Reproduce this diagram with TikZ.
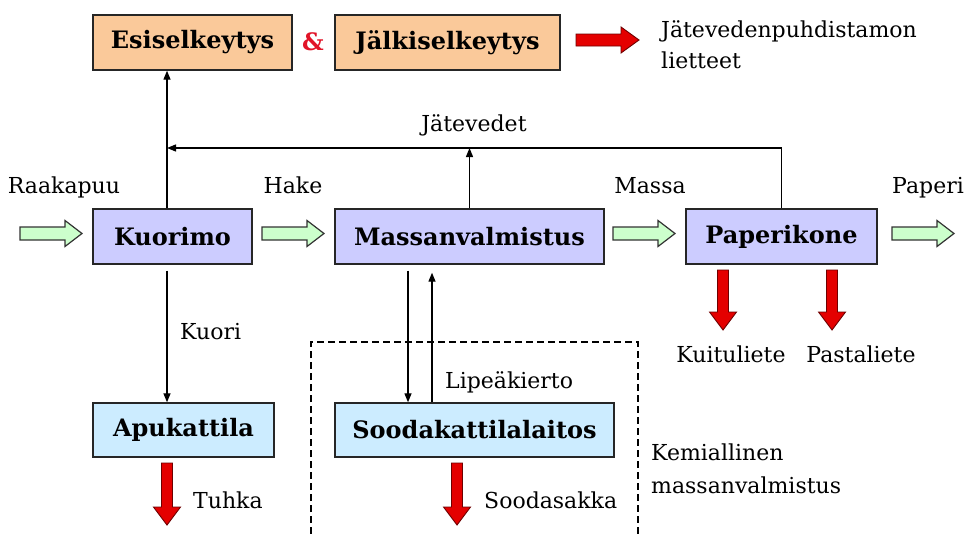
\documentclass[tikz,border=0pt]{standalone}
\usepackage{fontspec}
\setmainfont{DejaVu Serif}
\usetikzlibrary{arrows.meta,calc}

\definecolor{peach}{RGB}{250,201,154}
\definecolor{lavender}{RGB}{204,204,255}
\definecolor{skyblue}{RGB}{204,236,255}
\definecolor{mint}{RGB}{204,255,204}
\definecolor{arrowred}{RGB}{228,0,0}
\definecolor{darkred}{RGB}{110,0,0}
\definecolor{ampred}{RGB}{225,20,40}

\tikzset{
  box/.style={draw=black!85, line width=1.4pt, minimum height=55pt, inner sep=0pt,
    font=\fontsize{24}{28}\selectfont\bfseries},
  lbl/.style={inner sep=0pt, font=\fontsize{22}{31}\selectfont},
  conn/.style={line width=1.3pt, -{Triangle[length=9pt,width=7pt]}},
  greenbody/.style={draw=black!80, line width=1.2pt, fill=mint},
  redbody/.style={draw=darkred, line width=0.9pt, fill=arrowred},
  pics/greenright/.style={code={
    \path[greenbody] (0,-6.5) -- (45,-6.5) -- (45,-13) -- (62,0) -- (45,13)
      -- (45,6.5) -- (0,6.5) -- cycle;}},
  pics/reddown/.style={code={
    \path[redbody] (-5.5,0) -- (-5.5,#1-18) -- (-13.5,#1-18) -- (0,#1)
      -- (13.5,#1-18) -- (5.5,#1-18) -- (5.5,0) -- cycle;}},
}

\begin{document}
\begin{tikzpicture}[x=1pt, y=-1pt]
  \useasboundingbox (0,0) rectangle (968,533);
  \fill[white] (0,0) rectangle (968,533);
  \clip (0,0) rectangle (968,533);

  % clarification stage
  \node[box, fill=peach, minimum width=199pt] (esi) at (192.5,42.5) {Esiselkeytys};
  \node[box, fill=peach, minimum width=225pt] (jalki) at (447.5,42.5) {Jälkiselkeytys};
  \node[inner sep=0pt, text=ampred, font=\fontsize{24}{28}\selectfont\bfseries] (amp) at (313,42) {\&};
  \path[redbody] (576,34) -- (621,34) -- (621,27) -- (639,40) -- (621,53)
    -- (621,46) -- (576,46) -- cycle;
  \node[lbl, anchor=base west] (liete1) at (661,37) {Jätevedenpuhdistamon};
  \node[lbl, anchor=base west] (liete2) at (661,68) {lietteet};

  % main process line
  \node[box, fill=lavender, minimum width=159pt] (kuorimo) at (172.5,236.5) {Kuorimo};
  \node[box, fill=lavender, minimum width=269pt] (massa) at (469.5,236.5) {Massanvalmistus};
  \node[box, fill=lavender, minimum width=191pt] (paper) at (781.5,236.5) {Paperikone};

  \pic at (20,233.5) {greenright};
  \pic at (262,233.5) {greenright};
  \pic at (613,233.5) {greenright};
  \pic at (892,233.5) {greenright};

  \node[lbl, anchor=base] (raaka) at (64,193) {Raakapuu};
  \node[lbl, anchor=base] (hake) at (293,193) {Hake};
  \node[lbl, anchor=base] (massalbl) at (650,193) {Massa};
  \node[lbl, anchor=base] (paperi) at (928,193) {Paperi};

  % waste water loop
  \coordinate (kx) at (167,148);
  \coordinate (dx) at (408,0);
  \coordinate (ux) at (432,0);
  \draw[conn] (paper.north) |- (kx);
  \draw[conn] (massa.north) -- (massa.north |- kx);
  \draw[conn] (kuorimo.north -| kx) -- (esi.south -| kx);
  \node[lbl, anchor=base] (jatevedet) at (474,131) {Jätevedet};

  % boilers
  \node[box, fill=skyblue, minimum width=181pt, minimum height=54pt] (apu) at (183.5,430) {Apukattila};
  \node[box, fill=skyblue, minimum width=279pt, minimum height=54pt] (sooda) at (474.5,430) {Soodakattilalaitos};

  \draw[conn] ($(kuorimo.south -| kx)+(0,6)$) -- (apu.north -| kx);
  \draw[conn] ($(massa.south -| dx)+(0,6)$) -- (sooda.north -| dx);
  \draw[conn] (sooda.north -| ux) -- ($(massa.south -| ux)+(0,8)$);

  \node[lbl, anchor=base west] (kuori) at (180,339) {Kuori};
  \node[lbl, anchor=base west] (lipea) at (445,388) {Lipeäkierto};

  % chemical pulping area
  \draw[line width=1.2pt, dash pattern=on 7pt off 4pt]
    (311,545) -- (311,342) -- (638,342) -- (638,545);
  \node[lbl, anchor=base west] (kem1) at (651,460) {Kemiallinen};
  \node[lbl, anchor=base west] (kem2) at (651,493) {massanvalmistus};

  % solid residues
  \pic at (167,463) {reddown=62};
  \pic at (457,463) {reddown=62};
  \pic at (723,270) {reddown=60};
  \pic at (832,270) {reddown=60};
  \node[lbl, anchor=base west] (tuhka) at (193,508) {Tuhka};
  \node[lbl, anchor=base west] (sakka) at (484,508) {Soodasakka};
  \node[lbl, anchor=base] (kuitu) at (731,362) {Kuituliete};
  \node[lbl, anchor=base] (pasta) at (861,362) {Pastaliete};
\end{tikzpicture}
\end{document}
